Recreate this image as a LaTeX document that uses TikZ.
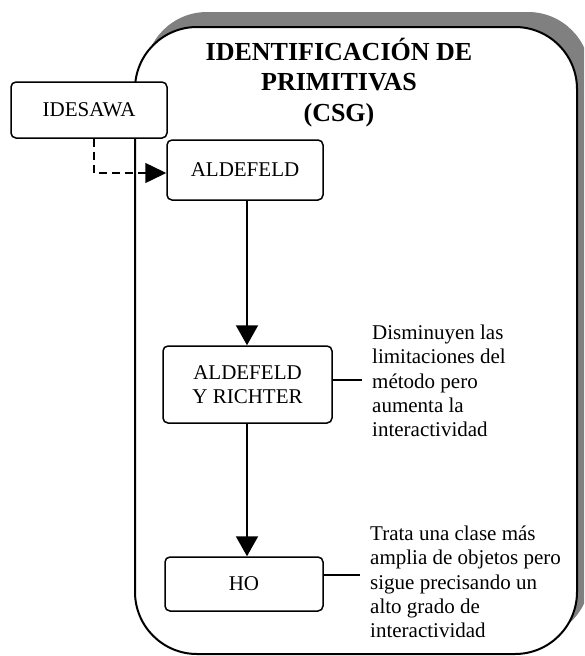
\documentclass[tikz,border=0pt]{standalone}
\usepackage{fontspec}
\setmainfont{Liberation Serif}
\usetikzlibrary{arrows.meta}
\begin{document}
\begin{tikzpicture}[x=1pt,y=-1pt,
  box/.style={draw, line width=1.5pt, rounded corners=5pt, fill=white,
    align=center, inner sep=0pt, font=\fontsize{21}{24}\selectfont},
  note/.style={anchor=north west, align=left, inner sep=0pt,
    font=\fontsize{21}{24.4}\selectfont},
  flow/.style={line width=2pt, -{Triangle[length=20pt,width=22pt]}},
  link/.style={line width=2pt},
  dasharrow/.style={line width=1.5pt, dash pattern=on 8pt off 5pt,
    -{Triangle[length=21pt,width=20pt]}}]
\useasboundingbox (0,0) rectangle (584,656);
% shadow
\begin{scope}
\clip (0,0) rectangle (584,656);
\fill[black!50, rounded corners=62pt] (145,12) rectangle (590,639);
\end{scope}
% container
\draw[line width=2pt, rounded corners=62pt, fill=white] (135,27) rectangle (577,654);
\node[align=center, inner sep=0pt, anchor=north,
  font=\bfseries\fontsize{26}{30.3}\selectfont] (title) at (339,38)
  {IDENTIFICACIÓN DE\\PRIMITIVAS\\(CSG)};
% boxes
\node[box, minimum width=156pt, minimum height=56pt] (ide) at (89,110) {IDESAWA};
\node[box, minimum width=156pt, minimum height=60pt] (ald) at (245,170) {ALDEFELD};
\node[box, minimum width=169pt, minimum height=77pt] (ayr) at (247.5,384.5) {ALDEFELD\\Y RICHTER};
\node[box, minimum width=158pt, minimum height=54pt] (ho) at (244,584) {HO};
% notes
\node[note] (n1) at (372,324.5) {Disminuyen las\\limitaciones del\\método pero\\aumenta la\\interactividad};
\node[note] (n2) at (370,525.5) {Trata una clase más\\amplia de objetos pero\\sigue precisando un\\alto grado de\\interactividad};
% connectors
\coordinate (ax) at (247,0);
\coordinate (dq) at (94,173);
\coordinate (c1) at (362,380);
\coordinate (c2) at (360,575);
\draw[flow] (ald.south -| ax) -- (ayr.north -| ax);
\draw[flow] (ayr.south -| ax) -- (ho.north -| ax);
\draw[dasharrow] (ide.south -| dq) |- (ald.west |- dq);
\draw[link] (ayr.east |- c1) -- (c1);
\draw[link] (ho.east |- c2) -- (c2);
\end{tikzpicture}
\end{document}
